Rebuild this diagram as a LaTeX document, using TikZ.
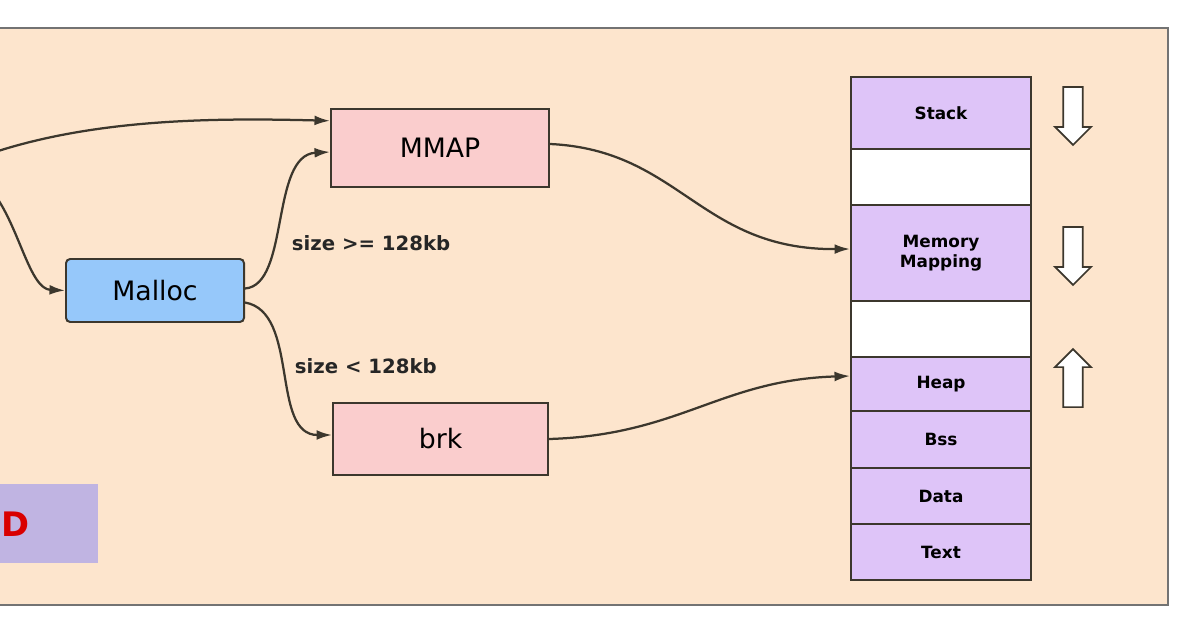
\documentclass[tikz,border=0pt]{standalone}
\usepackage{fontspec}
\setmainfont{DejaVu Sans}
\usetikzlibrary{arrows.meta, positioning, shapes.arrows}
\definecolor{panel}{RGB}{253,229,205}
\definecolor{pinkbox}{RGB}{250,205,205}
\definecolor{bluebox}{RGB}{150,200,250}
\definecolor{memfill}{RGB}{222,196,248}
\definecolor{legendbox}{RGB}{192,180,226}
\definecolor{linecol}{RGB}{60,55,45}
\begin{document}
\begin{tikzpicture}[x=0.025cm, y=-0.025cm,
  func/.style={draw=linecol, line width=1.4pt, fill=pinkbox, anchor=north west,
               inner sep=0pt, font=\fontsize{19}{22}\selectfont},
  mem/.style={draw=linecol, line width=1.4pt, fill=memfill, anchor=north west,
              minimum width=4.5cm, inner sep=0pt, font=\bfseries\fontsize{12}{14}\selectfont,
              align=center},
  flow/.style={-{Latex[length=11pt,width=7pt]}, line width=1.6pt, linecol},
  dir/.style={single arrow, draw=linecol, line width=1.2pt, fill=white,
              minimum height=1.45cm, single arrow head extend=3pt,
              minimum width=0.9cm, inner sep=3pt},
  cond/.style={font=\bfseries\fontsize{14}{16}\selectfont, text=black!85}]
  \useasboundingbox (0,0) rectangle (1200,627);
  \fill[white] (0,0) rectangle (1200,627);
  \clip (0,0) rectangle (1200,627);
  % Panel
  \draw[fill=panel, draw=black!55, line width=1.5pt] (-10,28) rectangle (1168,605);

  % Partial legend box
  \fill[legendbox] (-60,484) rectangle (98,563);
  \node[text=red!85!black, font=\bfseries\fontsize{24}{26}\selectfont] (lgd) at (16,524) {D};

  % Functions
  \node[func, minimum width=5.45cm, minimum height=1.95cm] (mmap) at (330,108) {MMAP};
  \node[func, minimum width=5.375cm, minimum height=1.8cm] (brk) at (332,402) {brk};
  \node[func, fill=bluebox, rounded corners=3pt, minimum width=4.45cm,
        minimum height=1.575cm] (malloc) at (65,258) {Malloc};

  % Memory layout
  \node[mem, minimum height=1.8cm] (stack) at (850,76) {Stack};
  \node[mem, fill=white, minimum height=1.4cm] (gap1) at (850,148) {};
  \node[mem, minimum height=2.4cm] (mmapseg) at (850,204) {Memory\\Mapping};
  \node[mem, fill=white, minimum height=1.4cm] (gap2) at (850,300) {};
  \node[mem, minimum height=1.35cm] (heap) at (850,356) {Heap};
  \node[mem, minimum height=1.425cm] (bss) at (850,410) {Bss};
  \node[mem, minimum height=1.4cm] (data) at (850,467) {Data};
  \node[mem, minimum height=1.4cm] (text) at (850,523) {Text};

  % Growth directions
  \node[dir, rotate=-90] (stackdir) at (1073,111) {};
  \node[dir, rotate=-90] (mmapdir) at (1073,251) {};
  \node[dir, rotate=90] (heapdir) at (1073,383) {};

  % Incoming from the left
  \coordinate (in1) at (-5,152);
  \coordinate (in2) at (-5,195);
  \draw[flow] (in1) .. controls (100,118) and (220,118) .. ([yshift=0.68cm]mmap.west);
  \draw[flow] (in2) .. controls (20,230) and (30,289) .. (malloc.west);

  % Malloc decisions
  \draw[flow] (malloc.east) ++(0,-2) .. controls (290,285) and (270,155) .. ([yshift=-0.1cm]mmap.west);
  \draw[flow] ([yshift=-0.3cm]malloc.east) .. controls (300,312) and (270,435) .. ([yshift=0.1cm]brk.west);
  \node[cond, anchor=west] (big) at (287,243) {size >= 128kb};
  \node[cond, anchor=west] (small) at (290,366) {size < 128kb};

  % Into the memory layout
  \draw[flow] ([yshift=0.1cm]mmap.east) .. controls (680,150) and (700,250) .. ([yshift=0.1cm]mmapseg.west);
  \draw[flow] (brk.east) .. controls (680,435) and (720,380) .. ([yshift=0.2cm]heap.west);
\end{tikzpicture}
\end{document}
